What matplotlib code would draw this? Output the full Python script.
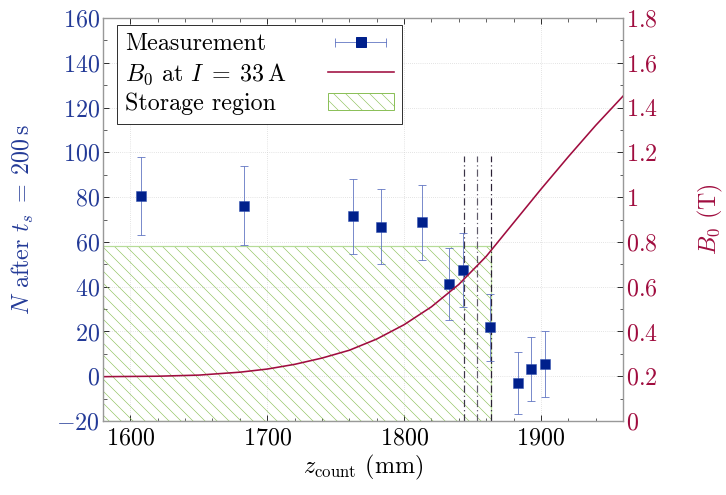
import matplotlib
matplotlib.use("Agg")
import matplotlib.pyplot as plt
from matplotlib.lines import Line2D
from matplotlib.patches import Rectangle
from matplotlib.legend_handler import HandlerLine2D, HandlerTuple
from matplotlib.ticker import MultipleLocator, FuncFormatter

plt.rcParams['font.family'] = 'serif'
plt.rcParams['font.serif'] = ['cmr10']
plt.rcParams['mathtext.fontset'] = 'cm'
plt.rcParams['axes.formatter.use_mathtext'] = True
plt.rcParams['hatch.linewidth'] = 0.6

# measurement
z_meas = [1608, 1683, 1763, 1783, 1813, 1833, 1843, 1863, 1883, 1893, 1903]
n_meas = [80.5, 76.2, 71.4, 66.7, 68.8, 41.3, 47.4, 21.8, -3.0, 3.4, 5.3]
n_err = [17.2, 17.6, 16.7, 16.7, 16.7, 16.0, 16.4, 15.0, 14.0, 14.3, 14.7]

# field on axis at I = 33 A
z_field = [1580, 1620, 1650, 1680, 1700, 1720, 1740, 1760, 1780, 1800, 1820,
           1840, 1860, 1880, 1900, 1920, 1940, 1960]
b_field = [0.198, 0.200, 0.205, 0.218, 0.232, 0.253, 0.281, 0.316, 0.366, 0.430, 0.510,
           0.610, 0.735, 0.885, 1.035, 1.180, 1.320, 1.451]

# storage region and marker lines
storage_z = (1500, 1863.5)
storage_n = (-20, 58)
marker_z = [1843.5, 1853.5, 1863.5]
marker_top = 98.5

blue = '#00208c'
err_blue = '#5a6fc0'
label_blue = '#233a97'
red = '#a00d3f'
green = '#8cc05a'
FS = 24

DPI = 72
fig = plt.figure(figsize=(726 / DPI, 495 / DPI), dpi=DPI)
ax = fig.add_axes([103 / 726, 74 / 495, 520 / 726, 403 / 495])
ax2 = ax.twinx()

# hatched storage region
ax.add_patch(Rectangle((storage_z[0], storage_n[0]), storage_z[1] - storage_z[0],
                       storage_n[1] - storage_n[0], facecolor='none', edgecolor=green,
                       hatch='\\\\', linewidth=0, zorder=1))
ax.add_patch(Rectangle((storage_z[0], storage_n[0]), storage_z[1] - storage_z[0],
                       storage_n[1] - storage_n[0], facecolor='none', edgecolor='#b6dc98',
                       linewidth=1.2, zorder=1.1))

for zc, c in zip(marker_z, ['#3b3447', '#605a6a', '#2b2035']):
    ax.plot([zc, zc], [storage_n[0], marker_top], color=c, lw=1.2,
            dashes=(6, 2.5, 1, 2.5), zorder=2)

ax.errorbar(z_meas, n_meas, yerr=n_err, fmt='none', ecolor=err_blue, elinewidth=0.8,
            capsize=4, capthick=0.8, zorder=3)
ax.plot(z_meas, n_meas, 's', color=blue, ms=10, mec='#3050b0', mew=0.5, zorder=4)

ax2.plot(z_field, b_field, color=red, lw=1.6)

ax.set_xlim(1580, 1960)
ax.set_ylim(-20, 160)
ax2.set_ylim(0, 1.8)

ax.xaxis.set_major_locator(MultipleLocator(100))
ax.xaxis.set_minor_locator(MultipleLocator(20))
ax.yaxis.set_major_locator(MultipleLocator(20))
ax.yaxis.set_minor_locator(MultipleLocator(10))
ax2.yaxis.set_major_locator(MultipleLocator(0.2))
ax2.yaxis.set_minor_locator(MultipleLocator(0.1))

fmt = FuncFormatter(lambda v, p: '$%g$' % round(v, 3))
ax.xaxis.set_major_formatter(fmt)
ax.yaxis.set_major_formatter(fmt)
ax2.yaxis.set_major_formatter(fmt)

ax.tick_params(which='both', direction='in', top=True, right=False, labelsize=FS)
ax.tick_params(which='major', length=6, width=0.8)
ax.tick_params(which='minor', length=3.5, width=0.6)
ax.tick_params(axis='x', pad=6)
ax.tick_params(axis='y', labelcolor=label_blue)
ax2.tick_params(which='both', direction='in', labelsize=FS, labelcolor=red)
ax2.tick_params(which='major', length=6, width=0.8)
ax2.tick_params(which='minor', length=3.5, width=0.6)

ax.grid(True, which='major', color='#cccccc', linestyle=(0, (1, 2)), lw=0.7)
ax.set_axisbelow(True)

for a in (ax, ax2):
    for s in a.spines.values():
        s.set_color('#999999')
        s.set_linewidth(1.2)

ax.set_xlabel(r'$z_\mathrm{count}$ (mm)', fontsize=FS, labelpad=4)
ax.set_ylabel(r'$N$ after $t_s\;=\;200\,\mathrm{s}$', fontsize=FS, color=label_blue, labelpad=20)
ax2.set_ylabel(r'$B_0$ (T)', fontsize=FS, color=red, labelpad=38)

# legend with horizontal error bar handle, text on the left
h_err = Line2D([], [], color=err_blue, lw=0.8, marker='|', ms=9, mew=0.8)
h_sq = Line2D([], [], color=blue, marker='s', ms=10, ls='none')
h_line = Line2D([], [], color=red, lw=1.6)
h_region = Rectangle((0, 0), 1, 1, facecolor='none', edgecolor=green, hatch='\\\\', lw=1)
leg = ax2.legend([(h_err, h_sq), h_line, h_region],
                 ['Measurement', r'$B_0$ at $I\;=\;33\,\mathrm{A}$', 'Storage region'],
                 handler_map={h_err: HandlerLine2D(numpoints=2),
                              h_sq: HandlerLine2D(numpoints=1),
                              tuple: HandlerTuple(ndivide=1)},
                 loc='upper left', bbox_to_anchor=(0.027, 0.983), borderaxespad=0,
                 markerfirst=False, handlelength=2.75, fontsize=FS, fancybox=False,
                 edgecolor='black', framealpha=1, borderpad=0.35, labelspacing=0.25,
                 handletextpad=1.7)
leg.get_frame().set_linewidth(0.8)

# left-align the label texts while keeping the handles in one column
renderer = fig.canvas.get_renderer()
col = leg._legend_handle_box.get_children()[0]
col.align = 'left'
rows = col.get_children()
widths = [r.get_children()[0].get_bbox(renderer).width for r in rows]
for r, w in zip(rows, widths):
    r.sep = r.sep + (max(widths) - w)

fig.savefig('out.png', dpi=DPI)
